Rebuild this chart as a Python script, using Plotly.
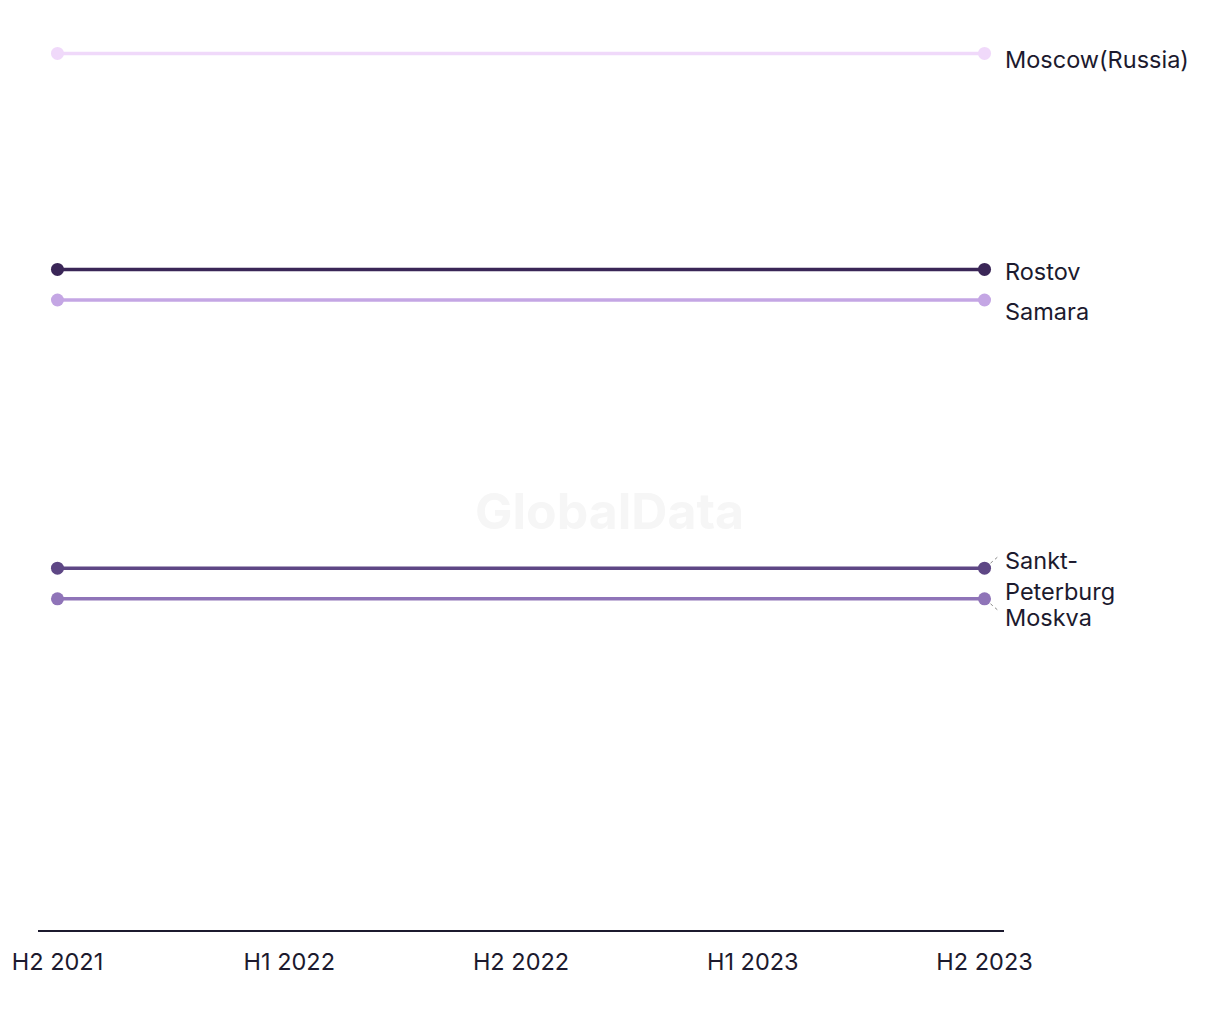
import plotly.graph_objects as go

periods = ["H2 2021", "H1 2022", "H2 2022", "H1 2023", "H2 2023"]
series_names = ["Moscow(Russia)", "Rostov", "Samara", "Sankt-Peterburg", "Moskva"]
moscow_russia = [97.4, 97.4, 97.4, 97.4, 97.4]
rostov = [73.4, 73.4, 73.4, 73.4, 73.4]
samara = [70.0, 70.0, 70.0, 70.0, 70.0]
sankt_peterburg = [40.2, 40.2, 40.2, 40.2, 40.2]
moskva = [36.8, 36.8, 36.8, 36.8, 36.8]

series_values = [moscow_russia, rostov, samara, sankt_peterburg, moskva]
colors = ["#F0D9FA", "#3A2657", "#C4A6E4", "#5E4785", "#8F74B8"]
label_texts = ["Moscow(Russia)", "Rostov", "Samara", "Sankt-<br>Peterburg", "Moskva"]
label_yshift = [-6, -2, -11, -8, -19]
# leader direction in pixels (dx, dy up-positive) for labels moved off their line
leaders = [None, None, None, (1, 1), (1, -1)]

FONT = "Inter, Liberation Sans, sans-serif"
TEXT_COLOR = "#1C1A2E"

fig = go.Figure()
for name, vals, col in zip(series_names, series_values, colors):
    sizes = [13 if i in (0, len(vals) - 1) else 0 for i in range(len(vals))]
    fig.add_trace(go.Scatter(
        x=periods, y=vals, name=name, mode="lines+markers",
        line=dict(color=col, width=3.5),
        marker=dict(color=col, size=sizes, opacity=1, line=dict(width=0)),
        hoverinfo="x+y+name",
    ))

for name, vals, txt, ys, ld in zip(series_names, series_values, label_texts, label_yshift, leaders):
    fig.add_annotation(x=periods[-1], y=vals[-1], text=txt, showarrow=False,
                       xanchor="left", yanchor="middle", xshift=18, yshift=ys,
                       align="left", font=dict(family=FONT, size=23.5, color=TEXT_COLOR))
    if ld is not None:
        sx, sy = ld
        fig.add_shape(type="line", xref="x", yref="y",
                      xsizemode="pixel", ysizemode="pixel",
                      xanchor=periods[-1], yanchor=vals[-1],
                      x0=6 * sx, x1=14 * sx, y0=5 * sy, y1=12 * sy,
                      line=dict(color="#8A8A8A", width=1, dash="dot"))

fig.add_annotation(text="GlobalData", xref="paper", yref="paper", x=0.592, y=0.465,
                   showarrow=False, font=dict(family=FONT, size=50, color="#F6F6F6", weight="bold"))

fig.update_layout(
    width=1220, height=1020,
    margin=dict(l=30, r=224, t=22, b=98),
    paper_bgcolor="white", plot_bgcolor="white",
    showlegend=False,
    font=dict(family=FONT, size=23.5, color=TEXT_COLOR),
    xaxis=dict(type="category", range=[-0.084, 4.084], showgrid=False, zeroline=False,
               automargin=False,
               showline=True, linecolor=TEXT_COLOR, linewidth=1.5, ticks="", ticklabelstandoff=10,
               tickfont=dict(family=FONT, size=23.5, color=TEXT_COLOR)),
    yaxis=dict(range=[0, 100], visible=False, showgrid=False, zeroline=False, automargin=False),
)

fig.write_html("out.html")
